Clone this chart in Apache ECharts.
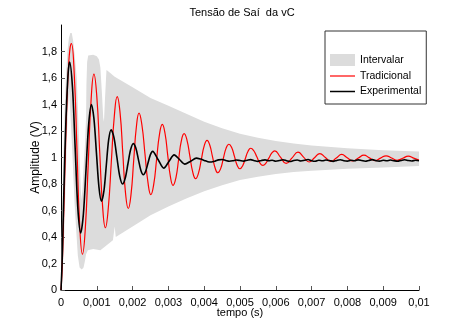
<!DOCTYPE html>
<html><head><meta charset="utf-8">
<script src="https://cdn.jsdelivr.net/npm/echarts@6/dist/echarts.min.js"></script>
<style>html,body{margin:0;padding:0;background:#fff}#c{width:463px;height:327px}</style>
</head><body><div id="c"></div>
<script>
const chartTitle = 'Tensão de Saí  da vC';
const xName = 'tempo (s)';
const yName = 'Amplitude (V)';
const seriesNames = ['Intervalar', 'Tradicional', 'Experimental'];
const xTicks = [0, 0.001, 0.002, 0.003, 0.004, 0.005, 0.006, 0.007, 0.008, 0.009, 0.01];
const xTickLabels = ['0', '0,001', '0,002', '0,003', '0,004', '0,005', '0,006', '0,007', '0,008', '0,009', '0,01'];
const yTicks = [0, 0.2, 0.4, 0.6, 0.8, 1, 1.2, 1.4, 1.6, 1.8];
const yTickLabels = ['0', '0,2', '0,4', '0,6', '0,8', '1', '1,2', '1,4', '1,6', '1,8'];

// grey band outline: upper edge (left to right) and lower edge (left to right)
const bandUpper = [
  [0, 0], [0.00001, 0.25], [0.00003, 0.55], [0.00006, 0.95], [0.0001, 1.35], [0.00014, 1.62],
  [0.00018, 1.8], [0.00022, 1.9], [0.00026, 1.94], [0.0003, 1.94], [0.00034, 1.88], [0.00038, 1.78],
  [0.00044, 1.6], [0.00048, 1.3], [0.00052, 1.0], [0.00055, 0.78], [0.00057, 0.68], [0.0006, 0.76],
  [0.00063, 0.92], [0.00067, 1.1], [0.0007, 1.3], [0.00071, 1.55], [0.00073, 1.72], [0.00076, 1.77],
  [0.0009, 1.775], [0.001, 1.765], [0.00106, 1.74], [0.0011, 1.68], [0.00114, 1.5], [0.00118, 1.3],
  [0.0012, 1.27], [0.00123, 1.45], [0.00127, 1.66], [0.0013, 1.655], [0.0015, 1.61], [0.002, 1.53],
  [0.0025, 1.45], [0.003, 1.39], [0.0035, 1.33], [0.004, 1.27], [0.0045, 1.22], [0.005, 1.18],
  [0.0055, 1.15], [0.006, 1.125], [0.0065, 1.105], [0.007, 1.09], [0.008, 1.07], [0.009, 1.055],
  [0.01, 1.045]
];
const bandLower = [
  [0, 0], [0.00005, 0.15], [0.00009, 0.42], [0.00013, 0.82], [0.00016, 1.12], [0.0002, 1.4],
  [0.00023, 1.5], [0.00031, 1.075], [0.00038, 0.65], [0.00043, 0.43], [0.00047, 0.26], [0.00052, 0.17],
  [0.00058, 0.155], [0.00063, 0.17], [0.00067, 0.22], [0.0007, 0.27], [0.00075, 0.3], [0.0009, 0.31],
  [0.0011, 0.3], [0.00145, 0.375], [0.0015, 0.48], [0.00153, 0.4], [0.002, 0.48], [0.0025, 0.565],
  [0.003, 0.63], [0.0035, 0.69], [0.004, 0.745], [0.0045, 0.79], [0.005, 0.83], [0.0055, 0.855],
  [0.006, 0.875], [0.0065, 0.89], [0.007, 0.9], [0.008, 0.915], [0.009, 0.925], [0.01, 0.935]
];

const tradicional = [
  [0, 0], [0.00003, 0.15], [0.00006, 0.42], [0.0001, 0.82], [0.00013, 1.12], [0.00017, 1.45],
  [0.00021, 1.68], [0.00025, 1.82], [0.00029, 1.86],
  [0.00037, 1.628], [0.000445, 1.065], [0.00052, 0.502], [0.0006, 0.27],
  [0.00068, 0.469], [0.00076, 0.95], [0.00084, 1.431], [0.00092, 1.63],
  [0.001, 1.461], [0.00108, 1.05], [0.00116, 0.639], [0.00124, 0.47],
  [0.00132, 0.615], [0.001405, 0.965], [0.00149, 1.315], [0.00157, 1.46],
  [0.00165, 1.337], [0.001725, 1.038], [0.0018, 0.738], [0.00188, 0.615],
  [0.001955, 0.72], [0.00203, 0.975], [0.002105, 1.23], [0.00218, 1.335],
  [0.00226, 1.245], [0.002345, 1.028], [0.00243, 0.81], [0.00251, 0.72],
  [0.00259, 0.797], [0.00267, 0.985], [0.00275, 1.173], [0.00283, 1.25],
  [0.002905, 1.183], [0.00298, 1.02], [0.003055, 0.857], [0.00313, 0.79],
  [0.00321, 0.847], [0.003285, 0.985], [0.00336, 1.123], [0.00344, 1.18],
  [0.00352, 1.13], [0.0036, 1.01], [0.00368, 0.89], [0.00376, 0.84],
  [0.00384, 0.882], [0.00392, 0.985], [0.004, 1.088], [0.00408, 1.13],
  [0.004155, 1.094], [0.00423, 1.008], [0.004305, 0.921], [0.00438, 0.885],
  [0.00446, 0.916], [0.004535, 0.993], [0.00461, 1.069], [0.00469, 1.1],
  [0.00477, 1.073], [0.004845, 1.008], [0.00492, 0.942], [0.005, 0.915],
  [0.005075, 0.938], [0.00515, 0.993], [0.005225, 1.047], [0.0053, 1.07],
  [0.005385, 1.051], [0.00547, 1.005], [0.005555, 0.959], [0.00564, 0.94],
  [0.00572, 0.956], [0.005805, 0.995], [0.00589, 1.034], [0.00597, 1.05],
  [0.00613, 1.0025], [0.00629, 0.955], [0.006455, 0.997], [0.00662, 1.04],
  [0.006775, 1.003], [0.00693, 0.966], [0.00708, 0.998], [0.00723, 1.03],
  [0.007385, 1.0], [0.00754, 0.97], [0.00769, 0.996], [0.00784, 1.023],
  [0.007995, 0.998], [0.00815, 0.974], [0.008305, 0.996], [0.00846, 1.018],
  [0.008615, 0.997], [0.00877, 0.977], [0.008925, 0.995], [0.00908, 1.013],
  [0.009235, 0.996], [0.00939, 0.979], [0.009545, 0.994], [0.0097, 1.01],
  [0.00985, 0.995], [0.01, 0.981]
];

const experimental = [
  [0, 0], [0.00003, 0.2], [0.00006, 0.52], [0.0001, 0.95], [0.00014, 1.3], [0.00018, 1.55],
  [0.00021, 1.67], [0.00024, 1.72],
  [0.00032, 1.532], [0.000395, 1.075], [0.00047, 0.618], [0.00055, 0.43],
  [0.000625, 0.572], [0.0007, 0.915], [0.000775, 1.258], [0.00085, 1.4],
  [0.00092, 1.293], [0.00099, 1.035], [0.00106, 0.777], [0.00113, 0.67],
  [0.0012, 0.749], [0.001265, 0.94], [0.00133, 1.131], [0.0014, 1.21],
  [0.00148, 1.15], [0.00156, 1.005], [0.00164, 0.86], [0.00172, 0.8],
  [0.001795, 0.845], [0.00187, 0.953], [0.001945, 1.06], [0.00202, 1.105],
  [0.00209, 1.071], [0.00216, 0.988], [0.00223, 0.904], [0.0023, 0.87],
  [0.002365, 0.896], [0.00243, 0.958], [0.002495, 1.02], [0.00256, 1.046],
  [0.002715, 0.983], [0.00287, 0.92], [0.003015, 0.97], [0.00316, 1.02],
  [0.00331, 0.985], [0.00346, 0.95], [0.00362, 0.972], [0.00378, 0.995],
  [0.0039, 0.988], [0.004, 0.978], [0.0041, 0.968], [0.0042, 0.966], [0.0043, 0.972],
  [0.0044, 0.982], [0.0045, 0.985], [0.0046, 0.978], [0.0047, 0.972], [0.0048, 0.975],
  [0.0049, 0.981], [0.005, 0.977], [0.0051, 0.973], [0.0052, 0.979], [0.0053, 0.984],
  [0.0054, 0.976], [0.0055, 0.971], [0.0056, 0.978], [0.0057, 0.982], [0.0058, 0.975],
  [0.0059, 0.979], [0.006, 0.972], [0.0061, 0.977], [0.0062, 0.983], [0.0063, 0.976],
  [0.0064, 0.97], [0.0065, 0.978], [0.0066, 0.981], [0.0067, 0.974], [0.0068, 0.979],
  [0.0069, 0.985], [0.007, 0.976], [0.0071, 0.972], [0.0072, 0.979], [0.0073, 0.975],
  [0.0074, 0.981], [0.0075, 0.977], [0.0076, 0.971], [0.0077, 0.978], [0.0078, 0.983],
  [0.0079, 0.976], [0.008, 0.973], [0.0081, 0.979], [0.0082, 0.975], [0.0083, 0.982],
  [0.0084, 0.977], [0.0085, 0.972], [0.0086, 0.978], [0.0087, 0.984], [0.0088, 0.976],
  [0.0089, 0.973], [0.009, 0.979], [0.0091, 0.975], [0.0092, 0.981], [0.0093, 0.976],
  [0.0094, 0.972], [0.0095, 0.978], [0.0096, 0.983], [0.0097, 0.977], [0.0098, 0.974],
  [0.0099, 0.979], [0.01, 0.976]
];

const FONT = '"Liberation Sans", Arial, sans-serif';
const BAND = '#dcdcdc';

function labelFor(ticks, labels, v) {
  for (let i = 0; i < ticks.length; i++) if (Math.abs(ticks[i] - v) < 1e-9) return labels[i];
  return '';
}

const chart = echarts.init(document.getElementById('c'), null, { renderer: 'canvas' });
chart.setOption({
  animation: false,
  backgroundColor: '#fff',
  title: {
    text: chartTitle, left: 237, top: 2, textAlign: 'center',
    textStyle: { fontFamily: FONT, fontSize: 11, fontWeight: 'normal', color: '#000' }
  },
  grid: { left: 61, right: 44, top: 25, bottom: 37, containLabel: false },
  legend: {
    orient: 'vertical', left: 325, top: 31,
    padding: [23, 5, 7, 5], itemGap: 4.5, itemWidth: 25, itemHeight: 12,
    borderColor: '#333', borderWidth: 1, backgroundColor: '#fff',
    textStyle: { fontFamily: FONT, fontSize: 10.5, color: '#000' },
    data: [
      { name: seriesNames[0], icon: 'rect' },
      { name: seriesNames[1], icon: 'path://M0,0L25,0L25,1.2L0,1.2Z' },
      { name: seriesNames[2], icon: 'path://M0,0L25,0L25,1.5L0,1.5Z' }
    ]
  },
  xAxis: {
    type: 'value', min: 0, max: 0.01,
    name: xName, nameLocation: 'middle', nameGap: 17, nameMoveOverlap: false,
    nameTextStyle: { fontFamily: FONT, fontSize: 11, color: '#000' },
    axisLine: { show: true, onZero: false, lineStyle: { color: '#000', width: 1 } },
    axisTick: { show: true, inside: true, length: 4, customValues: xTicks, lineStyle: { color: '#555' } },
    axisLabel: {
      customValues: xTicks, margin: 7, fontFamily: FONT, fontSize: 11, color: '#000',
      formatter: v => labelFor(xTicks, xTickLabels, v)
    },
    splitLine: { show: false }
  },
  yAxis: {
    type: 'value', min: 0, max: 2,
    name: yName, nameLocation: 'middle', nameGap: 19, nameMoveOverlap: false,
    nameTextStyle: { fontFamily: FONT, fontSize: 12, color: '#000' },
    axisLine: { show: true, onZero: false, lineStyle: { color: '#000', width: 1 } },
    axisTick: { show: true, inside: true, length: 4, customValues: yTicks, lineStyle: { color: '#555' } },
    axisLabel: {
      customValues: yTicks, margin: 4, fontFamily: FONT, fontSize: 11, color: '#000',
      formatter: v => labelFor(yTicks, yTickLabels, v)
    },
    splitLine: { show: false }
  },
  series: [
    {
      name: seriesNames[0], type: 'custom', coordinateSystem: 'cartesian2d', silent: true,
      itemStyle: { color: BAND }, z: 1, clip: true,
      data: [[0, 0]],
      renderItem: function (params, api) {
        const pts = [];
        for (const p of bandUpper) pts.push(api.coord(p));
        for (let i = bandLower.length - 1; i >= 0; i--) pts.push(api.coord(bandLower[i]));
        return { type: 'polygon', shape: { points: pts }, style: { fill: BAND } };
      }
    },
    {
      name: seriesNames[1], type: 'line', data: tradicional, smooth: 0.5, symbol: 'none', z: 3,
      lineStyle: { color: '#ff0000', width: 1.2 }, itemStyle: { color: '#ff0000' }
    },
    {
      name: seriesNames[2], type: 'line', data: experimental, smooth: 0.3, symbol: 'none', z: 4,
      lineStyle: { color: '#000', width: 1.6 }, itemStyle: { color: '#000' }
    }
  ]
});
</script>
</body></html>
